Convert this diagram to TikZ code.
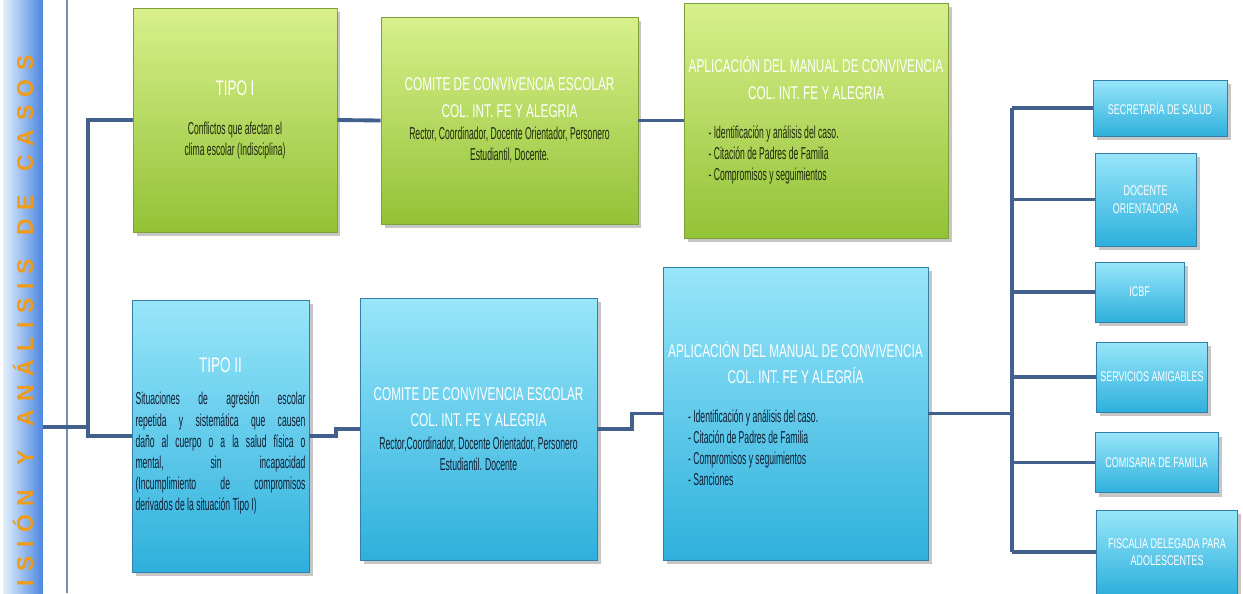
\documentclass[tikz,border=0pt]{standalone}
\usepackage{fontspec}
\setmainfont{Liberation Sans}
\newfontfamily\bodyfont{Liberation Sans}[FakeStretch=0.5]
\newfontfamily\headfont{Liberation Sans}[FakeStretch=0.64]
\newfontfamily\bandfont{Liberation Sans}[LetterSpace=38]
\usetikzlibrary{shadows}
\definecolor{greentop}{RGB}{216,240,140}
\definecolor{greenbot}{RGB}{146,194,54}
\definecolor{greenedge}{RGB}{128,160,58}
\definecolor{bluetop}{RGB}{152,230,250}
\definecolor{bluebot}{RGB}{46,176,220}
\definecolor{blueedge}{RGB}{52,126,172}
\definecolor{greentxt}{RGB}{30,40,10}
\definecolor{bluetxt}{RGB}{15,30,50}
\definecolor{linkcol}{RGB}{66,96,140}
\definecolor{sepcol}{RGB}{120,140,175}
\definecolor{bandL}{RGB}{228,240,253}
\definecolor{bandR}{RGB}{74,134,222}
\definecolor{bandtxt}{RGB}{240,155,25}
\newcommand{\boxhead}[1]{{\headfont\fontsize{10.5}{12}\selectfont\color{white}#1}}
\newcommand{\bandgap}{\ \hspace{5pt}}

\begin{document}
\begin{tikzpicture}[x=0.02cm,y=-0.02cm,
  greenbox/.style={rectangle,draw=greenedge,top color=greentop,bottom color=greenbot,
    drop shadow={shadow xshift=2pt,shadow yshift=-2.5pt,opacity=.45},
    inner sep=2pt,align=center,text=greentxt,font=\bodyfont\fontsize{9.8}{12}\selectfont},
  bluebox/.style={greenbox,draw=blueedge,top color=bluetop,bottom color=bluebot,text=bluetxt},
  agencybox/.style={bluebox,text=white,font=\headfont\fontsize{8}{10}\selectfont},
  bandbar/.style={rectangle,inner sep=0pt,minimum width=0.8cm,minimum height=11.9cm,left color=bandL,right color=bandR},
  bandlabel/.style={text=bandtxt,inner sep=0pt,font=\bandfont\bfseries\fontsize{13}{15}\selectfont},
  link/.style={draw=linkcol,line width=2.2pt},
  sepline/.style={draw=sepcol,line width=1.3pt}]
\useasboundingbox (0,0) rectangle (1243,593);

\node[bandbar] (band) at (23,296.5) {};
\node[bandlabel,rotate=90,anchor=east] (bandtext) at (23,55) {REVISIÓN\bandgap Y\bandgap ANÁLISIS\bandgap DE\bandgap CASOS};
\path[sepline] (67,0) -- (67,593);

\node[greenbox,minimum width=4.08cm,minimum height=4.48cm] (tipoI) at (235,120) {\boxhead{\fontsize{12}{13}\selectfont TIPO I}\\[10pt] Conflictos que afectan el\\clima escolar (Indisciplina)};
\node[greenbox,minimum width=5.14cm,minimum height=4.14cm] (comiteI) at (509.5,120.5) {\boxhead{COMITE DE CONVIVENCIA ESCOLAR}\\[3pt] \boxhead{COL. INT. FE Y ALEGRIA}\\[1pt] Rector, Coordinador, Docente Orientador, Personero\\Estudiantil, Docente.};
\node[greenbox,minimum width=5.28cm,minimum height=4.7cm] (aplicI) at (816,120.5) {\boxhead{APLICACIÓN DEL MANUAL DE CONVIVENCIA}\\[3pt] \boxhead{COL. INT. FE Y ALEGRIA}\\[14pt] \parbox{4.3cm}{\raggedright - Identificación y análisis del caso.\\- Citación de Padres de Familia\\- Compromisos y seguimientos}};

\node[bluebox,minimum width=3.5cm,minimum height=5.44cm] (tipoII) at (220.5,436) {\boxhead{\fontsize{12}{13}\selectfont TIPO II}\\[10pt] \parbox{3.4cm}{Situaciones de agresión escolar\linebreak repetida y sistemática que causen\linebreak daño al cuerpo o a la salud física o\linebreak mental, sin incapacidad\linebreak (Incumplimiento de compromisos\linebreak derivados de la situación Tipo I)}};
\node[bluebox,minimum width=4.74cm,minimum height=5.24cm] (comiteII) at (478.5,429) {\boxhead{COMITE DE CONVIVENCIA ESCOLAR}\\[3pt] \boxhead{COL. INT. FE Y ALEGRIA}\\[1pt] Rector,Coordinador, Docente Orientador, Personero\\Estudiantil. Docente};
\node[bluebox,minimum width=5.3cm,minimum height=5.86cm] (aplicII) at (795.5,413.5) {\boxhead{APLICACIÓN DEL MANUAL DE CONVIVENCIA}\\[3pt] \boxhead{COL. INT. FE Y ALEGRÍA}\\[14pt] \parbox{4.3cm}{\raggedright - Identificación y análisis del caso.\\- Citación de Padres de Familia\\- Compromisos y seguimientos\\- Sanciones}};

\node[agencybox,minimum width=2.68cm,minimum height=1.12cm] (salud) at (1160,108) {SECRETARÍA DE SALUD};
\node[agencybox,minimum width=2.02cm,minimum height=1.86cm] (docente) at (1145.5,199.5) {DOCENTE\\ORIENTADORA};
\node[agencybox,minimum width=1.78cm,minimum height=1.2cm] (icbf) at (1139.5,292) {ICBF};
\node[agencybox,minimum width=2.2cm,minimum height=1.4cm] (servicios) at (1152,377) {SERVICIOS AMIGABLES};
\node[agencybox,minimum width=2.46cm,minimum height=1.2cm] (comisaria) at (1156.5,462.5) {COMISARIA DE FAMILIA};
\node[agencybox,minimum width=2.82cm,minimum height=1.68cm] (fiscalia) at (1167,552) {FISCALIA DELEGADA PARA\\ADOLESCENTES};

\coordinate (lj) at (88,427);
\coordinate (rj) at (1012,413.5);
\path[link] (band.east |- lj) -- (lj);
\path[link] (tipoI.west) -- (tipoI.west -| lj) -- (tipoII.west -| lj) -- (tipoII.west);
\path[link] (tipoI.east) -- (comiteI.west);
\path[link] (comiteI.east) -- (aplicI.west);
\path[link] (tipoII.east) -- ++(27,0) |- (comiteII.west);
\path[link] (comiteII.east) -- ++(35,0) |- (aplicII.west);
\path[link] (aplicII.east) -- (rj);
\path[link] (salud.west -| rj) -- (fiscalia.west -| rj);
\foreach \n in {salud,docente,icbf,servicios,comisaria,fiscalia}
  \path[link] (\n.west -| rj) -- (\n.west);
\end{tikzpicture}
\end{document}
